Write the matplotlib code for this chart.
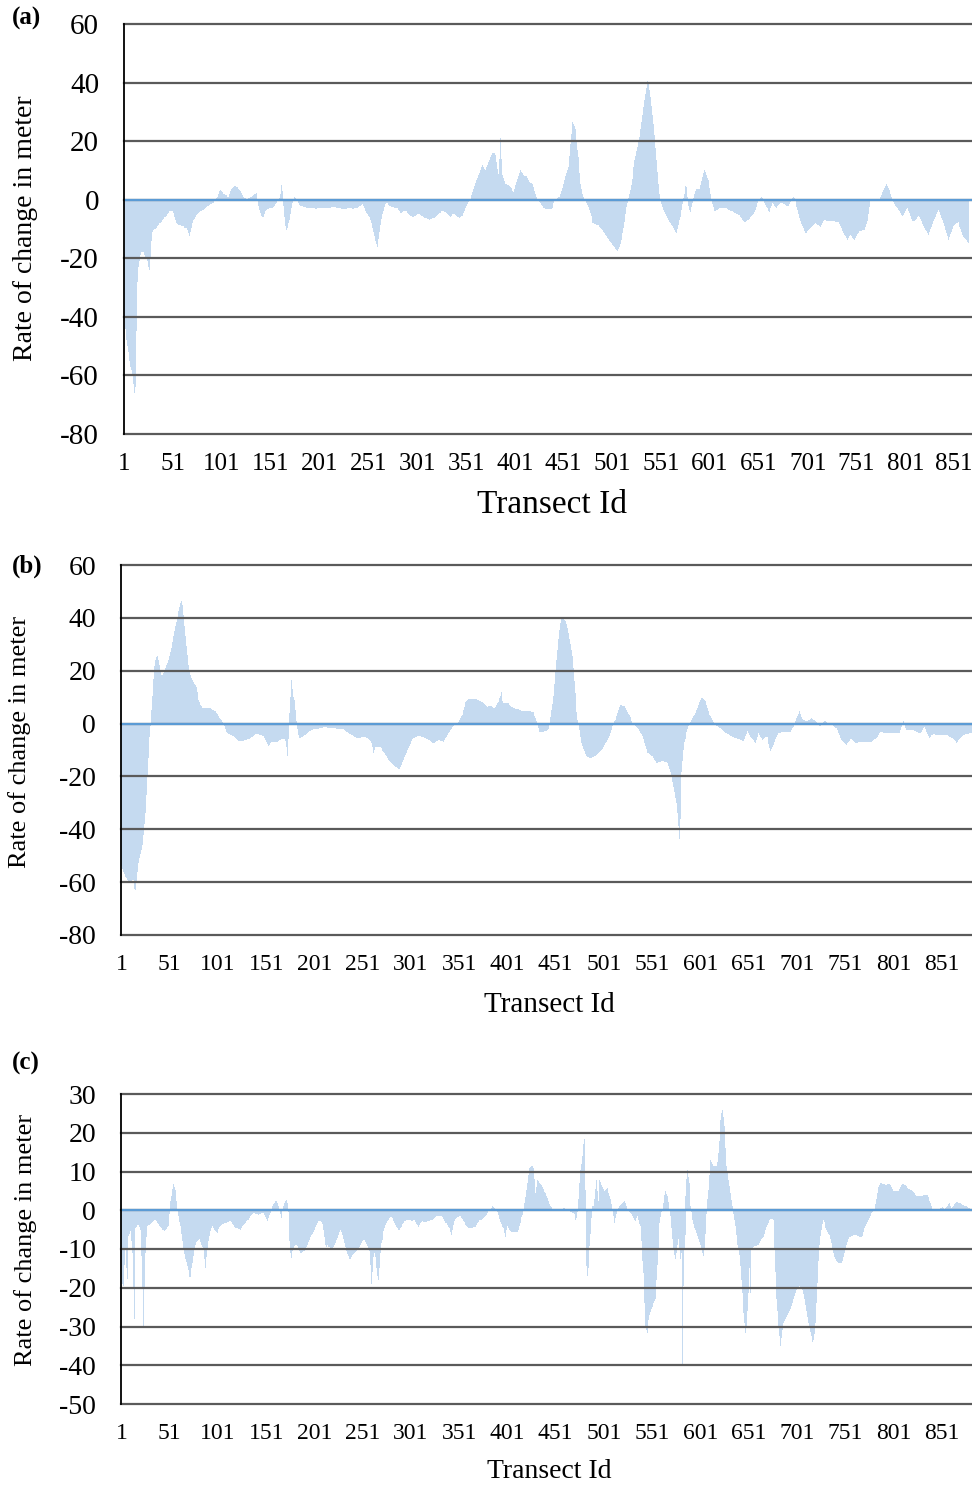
import numpy as np
import matplotlib
matplotlib.use('Agg')
import matplotlib.pyplot as plt

plt.rcParams['font.family'] = ['Liberation Serif', 'DejaVu Serif']
plt.rcParams['axes.unicode_minus'] = False

# ── 資料：每個 transect 的變化率 (m) ─────────────────────────────
rate_a = [
    -40, -44, -48, -50, -52, -55, -57, -58, -60, -63,
    -66, -64, -45, -28, -23, -21, -19, -18, -18, -18,
    -18, -19, -20, -20, -21, -23, -24, -20, -14, -11,
    -10.5, -10, -10, -9.7, -9, -8.5, -8, -8, -7.5, -7,
    -6.5, -6, -6, -5.5, -5, -4.5, -4, -4, -4, -4,
    -4.5, -6, -7, -8, -8.2, -8.5, -8.5, -8.7, -9, -9,
    -9, -9.3, -9.5, -9.7, -9.7, -10.5, -11.5, -12.5, -11, -9.5,
    -8, -7, -6.5, -6, -5.3, -5, -4.5, -4.2, -4, -3.8,
    -3.6, -3.4, -3.2, -3, -2.5, -2.2, -2, -1.7, -1.5, -1.3,
    -1.1, -1, -0.5, 0, 0.5, 1, 2, 3, 3.4, 3,
    2.5, 2, 1.8, 1.7, 1.5, 1.2, 1, 1, 2, 3,
    3.5, 4, 4.5, 4.8, 4.7, 4.5, 4.2, 3.8, 3.4, 3,
    2.3, 1.7, 1, 0.6, 0.5, 0.4, 0.4, 0.5, 0.5, 0.8,
    1, 1.3, 1.6, 1.9, 2.1, 2.3, 0, -2, -3.4, -4.5,
    -5.5, -6, -6, -5, -4, -3.4, -3.3, -3.2, -3.1, -3,
    -3, -3, -3, -2.5, -2, -1.5, -1, -0.5, 0, 0.5,
    2, 5, 3, -2, -6, -9, -10.3, -9.5, -8, -7,
    -5, -3, -1, 0, 1, 0.5, 0, -0.5, -1, -1.7,
    -2, -2.2, -2.3, -2.4, -2.5, -2.6, -2.7, -2.7, -2.8, -2.8,
    -2.8, -2.9, -2.9, -3, -3, -3, -3.1, -3.1, -3, -3,
    -2.9, -2.9, -2.8, -2.8, -2.8, -2.8, -2.9, -3, -3, -3,
    -2.8, -2.7, -2.6, -2.6, -2.5, -2.5, -2.6, -2.7, -2.8, -2.8,
    -2.9, -3, -3.1, -3.2, -3.3, -3.3, -3.2, -3.1, -3, -2.9,
    -2.8, -2.8, -2.9, -3, -3.1, -3.1, -3, -2.9, -2.8, -2.7,
    -2.5, -2.2, -2, -1.7, -1.4, -2, -3, -4, -4.5, -5,
    -5.5, -6, -6.8, -8, -9.5, -11, -12.5, -14, -15, -16,
    -13.5, -11, -8.5, -6.5, -5, -3.7, -2.5, -1.5, -1, -1.2,
    -1.5, -1.8, -2, -2.3, -2.4, -2.5, -2.6, -2.7, -2.7, -2.8,
    -2.8, -3.5, -4, -4.6, -4.4, -4.2, -4, -3.8, -3.7, -4,
    -4.4, -4.8, -5.1, -5.4, -5.7, -6, -5.8, -5.6, -5.4, -5.2,
    -5, -4.9, -4.8, -5.1, -5.4, -5.7, -6, -6.2, -6.3, -6.4,
    -6.5, -6.7, -6.8, -6.7, -6.6, -6.5, -6.4, -6.3, -6.2, -6,
    -5.6, -5.3, -5, -4.7, -4.4, -4, -3.7, -3.9, -4.1, -4.3,
    -4.6, -4.8, -5.2, -5.6, -5.8, -5.5, -5, -4.8, -5, -5.3,
    -5.6, -5.8, -6, -6.2, -6, -5.6, -5.4, -4.5, -3.8, -3,
    -2.2, -1.4, -0.8, -0.3, 0, 0.3, 1.5, 2.6, 3.7, 4.8,
    5.8, 6.8, 7.4, 8.3, 9.2, 10, 11, 11.9, 11.2, 10.6,
    10.2, 11, 12, 12.8, 13.4, 14.5, 15.3, 15.9, 16, 15.8,
    15.4, 13, 10.5, 8.8, 14, 21, 14, 8.3, 7.3, 6.4,
    5.5, 5.3, 5.1, 4.9, 4.7, 4.4, 3.9, 3.4, 3, 2.7,
    3.8, 5, 6.1, 7, 8, 9, 10, 9.5, 9, 8.5,
    8, 8, 8, 7.5, 6.8, 6.2, 5.8, 5.7, 5.5, 4.5,
    3, 2, 1, 0.3, -0.3, -0.7, -1.1, -1.7, -2.3, -2.8,
    -3, -3.1, -3.1, -3.1, -3.1, -3.1, -3.1, -3.1, -3, -2,
    -1, 0, 0.2, 0.4, 0.6, 0.8, 1, 2, 3, 4,
    5.3, 6.6, 8, 9, 10, 11, 15, 19, 22.4, 26.4,
    26, 25, 24, 20, 17, 14.5, 9, 5.5, 3.5, 2,
    1, 0.3, -0.5, -1.2, -1.9, -2.5, -3.5, -4.5, -5.5, -6.8,
    -8, -8.1, -8.2, -8.3, -8.5, -8.6, -8.7, -9.2, -9.6, -10,
    -10.5, -11, -11.5, -12, -12.5, -13, -13.5, -14, -14.4, -14.8,
    -15.3, -15.8, -16.3, -16.8, -17.2, -17.6, -17, -16, -15, -13.6,
    -11.5, -9.5, -7.5, -5, -2.5, -1, 0.5, 2, 3.2, 5,
    7, 9, 11, 13.4, 15, 16.6, 18, 19.8, 21.4, 24,
    26.5, 29, 31.5, 34, 36, 38, 40.4, 39.5, 37.5, 35,
    32, 29, 26, 22, 17.5, 13.4, 9.5, 5.5, 2, 0,
    -1.5, -2.5, -3.6, -4.3, -5, -5.7, -6.3, -7, -7.5, -8,
    -8.5, -9, -9.3, -9.8, -10.4, -11, -11.5, -10, -8.5, -7,
    -5.9, -3.5, -1.5, 0.5, 2, 4.6, 4.2, 1, -2, -3.5,
    -4.1, -2.5, -1, 0.5, 1.8, 3, 3.7, 3.8, 3.8, 3.7,
    5, 6.5, 7.7, 9, 10, 9.5, 8.5, 7.5, 6.6, 4,
    2, 0, -1.5, -2.5, -3.3, -4, -3.8, -3.6, -3.4, -3.2,
    -3, -3, -3, -3, -3, -3, -3, -3, -3.2, -3.4,
    -3.6, -3.8, -4, -4, -4.2, -4.4, -4.6, -4.8, -5, -5.2,
    -5.3, -5.8, -6.3, -6.8, -7.2, -7.6, -7.5, -7.2, -7, -6.8,
    -6.5, -6, -5.7, -5.3, -5, -4.3, -3.5, -2.5, -1.7, -1,
    -0.5, 0, 0.5, 1, 0.5, -0.5, -1, -1.8, -2.5, -3,
    -3.7, -4.3, -3, -2, -1, -1.5, -2, -2.4, -2.8, -2.2,
    -1.8, -1.5, -1.2, -1, -1.2, -1.4, -1.6, -1.8, -2, -2.2,
    -2.3, -1.5, -0.8, 0, 0.5, 1, 0.5, -0.5, -1.5, -2.5,
    -3.4, -5, -6.3, -7.4, -8.2, -9, -9.8, -10.6, -11.4, -11.2,
    -10.8, -10.4, -10, -9.7, -9.4, -9, -8.6, -8.3, -8, -8.3,
    -8.6, -8.8, -9, -9.3, -8.5, -7.8, -7.3, -7, -7, -7.1,
    -7.1, -7.2, -7.2, -7.3, -7.3, -7.3, -7.4, -7.4, -7.5, -7.5,
    -7.6, -7.6, -7.7, -8.4, -9.1, -9.8, -10.6, -11.4, -12, -12.5,
    -13, -13.6, -13, -12.5, -12, -12.5, -13, -13.3, -13.6, -13,
    -12.4, -11.8, -11.2, -10.8, -10.7, -10.6, -10.5, -10.3, -10.2, -9.2,
    -8.3, -7.4, -5, -2.5, -0.6, -0.3, -0.2, -0.1, 0, 0,
    -0.1, -0.2, -0.3, -0.3, 0.3, 1, 1.7, 2.5, 3.3, 4.1,
    4.8, 5.5, 4.8, 4.1, 3.4, 2, 1, 0, -0.7, -1.3,
    -2, -2.4, -2.8, -3.4, -4, -4.6, -5.2, -5.7, -5.1, -4.5,
    -3.9, -3.3, -2.8, -3.7, -4.6, -5.5, -6.5, -7.4, -7.2, -7.1,
    -7, -6.5, -6, -5.5, -5, -5.8, -6.6, -7.4, -8.2, -9,
    -9.6, -10.2, -10.8, -11.4, -11.9, -11, -10.1, -9.2, -8.3, -7.4,
    -6.6, -5.8, -5, -4.2, -3.4, -4.3, -5.2, -6.1, -7, -8,
    -9.1, -10.2, -11.3, -12.4, -13.6, -12.7, -11.8, -10.9, -10, -9,
    -8.7, -8.4, -8.1, -7.8, -7.5, -8.3, -9.2, -10.1, -11, -11.9,
    -12.7, -13.1, -13.5, -13.9, -14.3, -14.8,
]

rate_b = [
    -54, -55, -56, -57, -58, -58.5, -59, -59.5, -60, -60,
    -60, -59, -59, -61, -62.5, -63, -60, -56, -52.6, -51,
    -49.5, -48, -46, -42, -38, -33.7, -27, -20, -13, -5,
    -1, 5, 10.3, 17, 21.7, 24, 25.2, 25.5, 24, 22,
    20, 18.5, 17.9, 18.5, 19.2, 20, 21, 22, 23, 24.2,
    25.5, 27, 28.6, 31, 33, 35, 36.8, 38.5, 40.5, 42.5,
    44, 45.5, 46.2, 45, 41, 37, 33, 29.5, 26, 22,
    20, 18.5, 17.8, 17.3, 16.5, 15.8, 15, 14.5, 14, 12,
    9, 8, 7, 6.5, 6, 5.9, 5.9, 6, 6, 6,
    6, 5.9, 5.9, 5.6, 5.3, 5, 4.8, 4.7, 4, 3.5,
    3, 2.8, 2.2, 1.7, 1.2, 0.6, 0, -1, -2, -3,
    -3.5, -3.8, -4, -4.2, -4.4, -4.6, -4.8, -5.2, -5.6, -6,
    -6.3, -6.7, -6.7, -6.6, -6.6, -6.5, -6.5, -6.4, -6.3, -6.2,
    -6.1, -6, -5.9, -5.8, -5.5, -5.2, -4.9, -4.6, -4.3, -4,
    -3.8, -3.9, -4, -4.2, -4.3, -4.5, -4.6, -4.8, -5.5, -6.2,
    -7, -7.8, -8.6, -8, -7.5, -7, -6.7, -6.8, -6.9, -7,
    -7, -7, -6.8, -6.6, -6.4, -6.2, -6, -6, -6, -6,
    -6.5, -9, -12.4, -6, 4, 10, 16.6, 13, 10, 9,
    5, 1, -2, -4.5, -5.4, -5.3, -5.1, -5, -4.9, -4.8,
    -4.5, -4.2, -3.8, -3.5, -3.2, -2.9, -2.7, -2.5, -2.4, -2.2,
    -2.1, -2, -2, -2, -1.9, -1.8, -1.7, -1.6, -1.5, -1.4,
    -1.3, -1.3, -1.4, -1.5, -1.5, -1.6, -1.6, -1.5, -1.5, -1.6,
    -1.7, -1.8, -1.8, -1.9, -1.9, -2, -2, -2, -2, -2.1,
    -2.2, -2.4, -2.7, -3, -3.3, -3.6, -3.8, -4, -4.2, -4.4,
    -4.6, -4.8, -5, -5.2, -5.3, -5.4, -5.5, -5.4, -5.3, -5.2,
    -5.2, -5.1, -5, -5.1, -5.3, -5.5, -5.8, -6.2, -6.7, -7.5,
    -9, -11.2, -10, -8.7, -8.7, -8.7, -8.7, -8.7, -8.8, -9.3,
    -9.8, -10.3, -10.8, -11.2, -11.8, -12.4, -13, -13.6, -14.2, -14.4,
    -14.8, -15.2, -15.6, -16, -16.3, -16.6, -16.8, -17, -17, -16.3,
    -15.5, -14.7, -13.7, -12.8, -11.9, -11, -10, -9.2, -8.4, -7.7,
    -7, -6.5, -6, -5.5, -5.3, -5.1, -5, -4.8, -4.7, -4.7,
    -4.8, -4.9, -5, -5.1, -5.4, -5.6, -5.8, -6, -6.2, -6.4,
    -6.7, -7, -7.2, -7.4, -7.2, -7, -6.7, -6.5, -6.2, -6.3,
    -6.4, -6.5, -6.6, -6.7, -6.8, -6.2, -5.6, -5, -4.4, -3.7,
    -3.2, -2.6, -2, -1.4, -0.9, -0.5, -0.2, 0.1, 0.4, 0.7,
    1.4, 2, 2.7, 3.4, 5, 6.4, 7.7, 8.2, 8.6, 9,
    9.2, 9.3, 9.3, 9.3, 9.3, 9.3, 9.2, 9.2, 9.2, 9,
    8.8, 8.6, 8.4, 8.3, 8, 7.7, 7.4, 7, 6.7, 6.4,
    6.5, 6.5, 6.6, 6.5, 6.3, 6.1, 5.9, 5.8, 6.4, 7,
    7.6, 8.3, 9.5, 10.6, 11.8, 8.5, 7.7, 7.7, 7.7, 7.7,
    7.6, 7.6, 7.2, 6.8, 6.4, 6.1, 5.8, 5.8, 5.7, 5.7,
    5.6, 5.4, 5.2, 5, 4.9, 4.8, 4.8, 4.7, 4.7, 4.6,
    4.6, 4.6, 4.6, 4.7, 4.7, 4.5, 4.3, 4.2, 3, 2,
    1, 0.4, -1.5, -3, -3.3, -3.2, -3.1, -3, -2.9, -2.8,
    -2.7, -2.5, -2, -1, 0, 2.5, 5, 7.5, 10.3, 15,
    19.5, 24.2, 28, 32, 35.5, 38, 39.6, 39.8, 39.5, 39.2,
    38.7, 37.5, 36, 34.3, 32, 30, 27.7, 25.5, 21, 16,
    11.6, 8, 4.5, 1.5, 0, -2.5, -5, -7.3, -8.5, -9.5,
    -10.5, -11.4, -12.3, -12.5, -12.7, -12.9, -13, -12.9, -12.8, -12.6,
    -12.4, -12.2, -12, -11.7, -11.3, -10.9, -10.5, -10, -9.5, -9,
    -8.6, -8, -7.5, -6.8, -6.2, -5.5, -4.8, -3.5, -2.3, -1,
    0.2, 1, 1.5, 2.7, 4, 5.2, 6.3, 7.2, 7, 6.8,
    6.7, 6.5, 5.8, 5, 4.2, 3.8, 3.4, 2.5, 1.7, 1,
    0.3, 0, -0.5, -1, -1.3, -1.6, -2.2, -2.8, -3.5, -4.1,
    -4.8, -6, -7.3, -8.6, -9.8, -11, -11.3, -11.6, -11.9, -12.1,
    -12.3, -13, -13.6, -14.2, -14.9, -14.8, -14.7, -14.6, -14.5, -14.4,
    -14.3, -14.2, -14.3, -14.4, -14.5, -14.6, -14.8, -16, -17.2, -18.5,
    -19.9, -22, -24, -26, -28, -30, -34, -38.8, -43.8, -36,
    -18.4, -14, -10, -7, -6, -4.5, -3.3, -2.2, -1.1, 0,
    0.7, 1.4, 2, 2.7, 3.3, 4, 5, 6, 7, 8,
    9, 9.7, 9.5, 9.2, 9, 8.5, 7, 5.8, 4.6, 3.4,
    2.7, 2, 1.3, 0.6, 0, -0.3, -0.5, -0.8, -1, -1.2,
    -1.5, -1.8, -2.2, -2.5, -2.8, -3.1, -3.5, -3.7, -3.9, -4.1,
    -4.4, -4.6, -4.8, -5, -5.1, -5.3, -5.4, -5.6, -5.7, -5.9,
    -6, -6.1, -6.3, -6.4, -6.5, -6.7, -5.7, -4.7, -3.8, -2.9,
    -3.6, -4.3, -4.9, -5.4, -5.9, -6.4, -6.9, -7.4, -6.2, -5,
    -3.7, -4.3, -4.9, -5.6, -6.2, -5.9, -5.6, -5.2, -4.9, -4.9,
    -6.3, -7.7, -9.1, -10.5, -9.5, -8.7, -8, -7, -6, -5,
    -4.2, -3.7, -3.6, -3.5, -3.3, -3.1, -3, -3, -3, -3,
    -3, -3, -3, -3, -2.4, -1.8, -1.2, -0.6, 0, 1,
    2, 3, 3.8, 4.6, 3.5, 2.5, 1.8, 1.4, 1.2, 1,
    1, 1, 1.2, 1.5, 1.8, 2, 1.8, 1.5, 1.2, 1,
    0.5, 0, -0.5, -1.1, -1, -0.6, -0.2, 0.2, 0.6, 0.8,
    0.8, 0.6, 0.4, 0.2, 0, 0, -0.2, -0.6, -1, -1.4,
    -1.8, -1.8, -2.6, -3.5, -4.4, -5.3, -6.2, -6.6, -7, -7.4,
    -7.7, -8, -7.5, -7, -6.5, -6, -5.5, -5.9, -6.3, -6.7,
    -7.1, -7.4, -7.3, -7.2, -7.1, -7, -6.8, -6.8, -6.8, -6.8,
    -6.8, -6.8, -6.8, -6.8, -6.8, -6.8, -6.8, -6.8, -6.5, -6.2,
    -6, -5.8, -5.5, -5, -4.5, -4, -3.5, -3, -3.1, -3.3,
    -3.4, -3.6, -3.7, -3.7, -3.7, -3.7, -3.7, -3.7, -3.7, -3.7,
    -3.7, -3.7, -3.7, -3.7, -3.7, -3.7, -3.7, -2.5, -1.2, 0,
    0.8, 0, -1, -1.8, -2.4, -2.4, -2.4, -2.5, -2.5, -2.5,
    -2.5, -2.5, -2.7, -2.9, -3.1, -3.3, -3.5, -3.6, -3.7, -3,
    -2.3, -1.5, -1.2, -2, -3, -4, -4.8, -5.5, -5, -4.5,
    -4.2, -4, -4, -4.1, -4.2, -4.3, -4.3, -4.3, -4.3, -4.3,
    -4.3, -4.3, -4.3, -4.3, -4.3, -4.3, -4.3, -4.6, -4.9, -5.2,
    -5.5, -5.5, -5.8, -6.2, -6.6, -7.2, -6.8, -6.4, -5.9, -5.5,
    -5.1, -4.9, -4.7, -4.5, -4.3, -4.1, -4, -3.9, -3.8, -3.7,
    -3.7, -3.7,
]

rate_c = [
    -20, -19, -19.5, -14, -10, -15, -17.8, -6.6, -6, -5.4,
    -8, -11, -20, -28, -5, -4.5, -4.2, -3.9, -3.7, -4.2,
    -5, -11.9, -20, -30, -20, -11, -7, -4.1, -3.9, -3.7,
    -3.5, -3.3, -3, -2.7, -2.5, -2.4, -2.8, -3.2, -3.6, -4,
    -4.3, -4.7, -5, -5, -5.2, -5.4, -5.2, -4.8, -4.4, -4.1,
    -1, 2.5, 3.7, 5.5, 6.7, 6, 5.3, 2.5, 0, -1.5,
    -3, -4.1, -6, -8, -10, -11.2, -12.5, -13.4, -14.3, -15.3,
    -16.3, -17.3, -16, -14.8, -13.5, -11.7, -10, -9, -8.3, -8,
    -7.8, -7.5, -8.2, -8.9, -9.5, -10, -12.5, -14.8, -12, -10,
    -8, -6.7, -5.3, -4.5, -4, -4.5, -5, -5.4, -5.7, -5.8,
    -5.3, -4.8, -4.3, -4, -3.8, -3.6, -3.5, -3.4, -3.3, -3.2,
    -3.1, -3, -2.9, -2.8, -3.1, -3.5, -3.9, -4.2, -4.5, -4.6,
    -4.7, -4.8, -4.9, -5, -4.5, -4, -3.7, -3.5, -3.2, -3,
    -2.8, -2.6, -2.4, -2, -1.6, -1.2, -0.9, -0.7, -0.8, -0.9,
    -1, -1, -1.1, -1, -0.9, -0.8, -0.7, -0.7, -1.2, -1.8,
    -2.3, -2.8, -2, -1.3, -0.7, 0, 0.5, 1, 1.6, 2,
    2.3, 2.3, 2, 1, 0, -1, -2, 0, 1, 1.8,
    2.3, 2.7, 2, -0.5, -8, -11, -12.3, -10.5, -9.7, -9.3,
    -9, -9, -9.3, -9.7, -10.2, -10.6, -11, -11, -10.8, -10.6,
    -10.4, -10, -9.5, -9, -8.3, -7.7, -7, -6.5, -6, -5.6,
    -5, -4.4, -3.8, -3.3, -2.8, -2.8, -2.9, -3.1, -3.5, -5,
    -7, -9, -9.5, -8.6, -9, -9.4, -9.6, -9.9, -9.9, -9.9,
    -9.6, -9, -8.4, -7.8, -7.2, -6.5, -5.5, -5, -5.6, -6.5,
    -7.5, -8.5, -9.5, -10.5, -11.2, -11.8, -12.5, -12.5, -12, -11.5,
    -11.2, -11, -10.8, -10.6, -10.4, -10.3, -10, -9.5, -9, -8.5,
    -8, -7.7, -7.7, -8.2, -8.8, -9.2, -9.8, -10.5, -14, -19,
    -16, -12, -11, -12, -15, -17, -18, -15, -11, -8.5,
    -7.7, -6.5, -5.4, -4.5, -3.8, -3.2, -2.8, -2.4, -2, -1.7,
    -1.7, -2.1, -2.7, -3.4, -3.8, -4.2, -4.6, -5, -5, -4.6,
    -4.2, -3.6, -3.2, -2.9, -2.7, -2.6, -2.6, -2.6, -2.6, -2.6,
    -2.6, -2.7, -2.7, -2.6, -2.6, -3, -3.5, -3.9, -4.3, -3.8,
    -3.3, -3, -2.9, -3, -3.1, -3.1, -3, -2.9, -2.8, -2.7,
    -2.6, -2.6, -2.5, -2.2, -2, -1.8, -1.6, -1.5, -1.5, -1.5,
    -1.5, -1.6, -1.6, -1.7, -2.2, -2.8, -3.3, -3.4, -3.8, -4.2,
    -4.7, -5.6, -6.4, -5, -3.7, -2.8, -2.2, -2, -1.8, -1.7,
    -1.6, -1.5, -1.9, -2.3, -2.7, -3.1, -3.4, -3.7, -4, -4.3,
    -4.6, -4.7, -4.7, -4.6, -4.5, -4.4, -4.3, -4.2, -3.8, -3.4,
    -3, -2.6, -2.6, -2.4, -2.2, -2, -1.8, -1.5, -1.1, -0.7,
    -0.3, 0.1, 0.4, 0.6, 0.8, 1, 0.9, 0.6, 0.3, -0.1,
    -0.4, -1.3, -2.2, -3, -3.6, -4.2, -4.7, -5.8, -6.9, -5,
    -4, -4.5, -5, -5.3, -5.6, -5.6, -5.6, -5.6, -5.6, -5.6,
    -5.6, -5, -4, -3.2, -2.4, -1.8, -1.3, 0, 2, 3.5,
    5.2, 7, 9, 11, 11.2, 11.5, 11.5, 11, 8, 4.4,
    6, 7.7, 7.5, 7, 6.8, 6.6, 6, 5.4, 4.8, 4.4,
    3.8, 3.2, 2.5, 2.3, 1.7, 1.2, 0.8, 0.4, 0.2, 0,
    0, 0, 0, 0.1, 0.1, 0, 0.2, 0.4, 0.6, 0.5,
    0.4, 0.4, 0.2, 0, -0.2, -0.4, -0.4, -0.6, -0.8, -1,
    -1.1, -2.4, -2, -0.5, 3, 7, 10.5, 12, 14, 17,
    18.4, 5.3, -14.4, -17, -15, -9.3, -6, -2, 1, 1.2,
    3, 5.5, 7.9, 5, 2.5, 7.9, 7.2, 6.6, 6, 5.5,
    5, 4.9, 5.2, 5.5, 5.8, 4.5, 3.6, 3, 1.5, 0,
    -1.5, -3.2, -2, -1, 0, 0.5, 1, 1.3, 1.5, 1.8,
    2.1, 2.3, 2, 1, 0.3, -0.2, -0.5, -0.6, -0.7, -1,
    -1.5, -2, -2.5, -2.8, -2, -1.5, -2.5, -3.5, -4.1, -8,
    -13, -16.2, -24, -29.9, -31, -31.6, -28.2, -27, -26.3, -25.6,
    -25, -24, -23.5, -23, -18, -14, -10.1, -6.5, -3.2, -1.7,
    -0.5, 0, 2, 4, 4.9, 4.2, 3.6, 2.2, 0.3, -1.5,
    -4.5, -7.5, -10.1, -11.5, -12.7, -11, -9, -7.5, -10, -12.7,
    -11, -40, -19.6, -10, -6.5, 3.6, 8, 10.5, 8.5, 7,
    1, -0.5, -2.4, -3.5, -4.5, -5.2, -5.8, -6.6, -7.4, -8.2,
    -9, -10, -11, -11.9, -10, -6, -1, 3, 5.3, 9,
    13, 12.5, 12, 11.4, 11.4, 11.4, 11.4, 11.5, 12.5, 14.8,
    18, 23.4, 25, 26, 24, 21.7, 16, 11.4, 9.5, 7.8,
    6.2, 4.5, 2.7, 1, -1, -2.5, -4, -6.5, -9, -10.1,
    -11.5, -13, -14.4, -18, -21.3, -26.4, -29, -31.6, -30, -26,
    -21.3, -15, -21.3, -10.1, -9.8, -9.5, -9.3, -9.2, -9.1, -9,
    -8.9, -8.5, -8, -7.5, -7.2, -6.9, -6, -5, -4.2, -3.7,
    -3.2, -2.8, -2.4, -2.3, -2.2, -2.3, -2.4, -10, -16, -23,
    -26, -29.9, -32.5, -35, -33, -31, -29.1, -28.5, -28, -27.5,
    -27, -26.5, -26, -25.6, -24.8, -24, -23, -22, -21.3, -20.9,
    -20.5, -20.1, -19.8, -19.6, -19.8, -20.2, -20.5, -21.5, -23, -24.5,
    -26, -27.5, -29, -30.5, -31.5, -32.5, -34, -33.5, -32, -29,
    -24, -18.7, -13, -9, -6.7, -5, -3.5, -2.5, -1.5, -3,
    -4.5, -5, -5.5, -6, -6.5, -7.5, -8.5, -10, -11, -12,
    -12.7, -13.2, -13.4, -13.5, -13.6, -13.6, -13.6, -13, -12, -11,
    -10, -9, -8.2, -7.5, -7, -6.8, -6.7, -6.7, -6.6, -6.5,
    -6.5, -6.5, -6.5, -6.6, -6.7, -6.8, -6.8, -6.8, -6.6, -5.5,
    -4.5, -4, -3.5, -3, -2.5, -2, -1.4, -0.8, -0.5, -0.2,
    0, 1.5, 3, 4.4, 5.3, 6, 6.6, 7, 7, 6.9,
    6.8, 6.7, 6.6, 6.6, 6.7, 6.8, 6.8, 6.6, 6, 5.5,
    5, 4.9, 4.9, 5, 5, 5, 5.5, 6, 6.5, 6.8,
    6.8, 6.6, 6.4, 6.2, 6, 5.8, 5.6, 5.4, 5.2, 5.2,
    5, 4.8, 4.5, 4, 3.6, 3.6, 3.6, 3.6, 3.6, 3.7,
    3.8, 3.9, 4, 4, 4, 4, 3.5, 2.5, 1.9, 1,
    0, 0, 0, 0.1, 0.1, 0.2, 0.2, 0.3, 0.3, 0.5,
    0.7, 0.9, 0.6, 0.3, 0.5, 0.8, 1.2, 1.6, 1.9, 1.2,
    0.5, 0.8, 1.2, 1.6, 1.9, 2.1, 2.1, 2, 1.9, 1.8,
    1.7, 1.5, 1.4, 1.3, 1.2, 1.1, 1, 0.8, 0.6, 0.5,
    0.4, 0.3,
]

xtick_ids = list(range(1, 852, 50))
yticks_ab = list(range(-80, 61, 20))
yticks_c = list(range(-50, 31, 10))
panel_tags = ['(a)', '(b)', '(c)']

BAR_COLOR = '#C5DAF0'
ZERO_COLOR = '#5B9BD5'
GRID_COLOR = '#5A5A5A'

W, H = 972, 1485
fig = plt.figure(figsize=(W / 100, H / 100), dpi=100)


def px_rect(left, top, right, bottom):
    return [left / W, 1 - bottom / H, (right - left) / W, (bottom - top) / H]


def draw_panel(rect, values, yticks, xmax, ytick_fs, xtick_fs):
    ax = fig.add_axes(rect)
    t = np.arange(1, len(values) + 1)
    # 寬度略大於 1，避免點陣化時相鄰長條之間出現白縫
    ax.bar(t, values, width=1.05, color=BAR_COLOR, linewidth=0,
           antialiased=False, zorder=2)
    for y in yticks:
        ax.axhline(y, color=GRID_COLOR, lw=1.6, zorder=3, clip_on=False)
    ax.axhline(0, color=ZERO_COLOR, lw=1.6, zorder=4)
    ax.set_xlim(0.5, xmax)
    ax.set_ylim(yticks[0], yticks[-1])
    ax.set_yticks(yticks)
    ax.set_xticks(xtick_ids)
    ax.set_xticklabels([str(i) for i in xtick_ids])
    for s in ['top', 'right', 'bottom']:
        ax.spines[s].set_visible(False)
    ax.spines['left'].set_color('black')
    ax.spines['left'].set_linewidth(1.3)
    ax.spines['left'].set_zorder(5)
    ax.tick_params(axis='y', length=0, pad=18, labelsize=ytick_fs)
    ax.tick_params(axis='x', length=0, pad=14, labelsize=xtick_fs)
    return ax


draw_panel(px_rect(124, 24, 972, 434), rate_a, yticks_ab, 869.3, 21, 18)
draw_panel(px_rect(121, 565, 972, 935), rate_b, yticks_ab, 882.4, 20, 17)
draw_panel(px_rect(121, 1094, 972, 1404), rate_c, yticks_c, 882.4, 20, 17)

# 軸標題與面板標記
fig.text(552 / W, 1 - 505 / H, 'Transect Id', fontsize=24, ha='center', va='center')
fig.text(549 / W, 1 - 1005 / H, 'Transect Id', fontsize=21, ha='center', va='center')
fig.text(549 / W, 1 - 1472 / H, 'Transect Id', fontsize=20, ha='center', va='center')

fig.text(26 / W, 1 - 228 / H, 'Rate of change in meter', fontsize=20,
         rotation=90, ha='center', va='center')
fig.text(20 / W, 1 - 742 / H, 'Rate of change in meter', fontsize=19,
         rotation=90, ha='center', va='center')
fig.text(26 / W, 1 - 1240 / H, 'Rate of change in meter', fontsize=19,
         rotation=90, ha='center', va='center')

for tag, y in zip(panel_tags, [18, 566, 1063]):
    fig.text(12 / W, 1 - y / H, tag, fontsize=18, fontweight='bold',
             ha='left', va='center')

fig.savefig('out.png', dpi=100)
